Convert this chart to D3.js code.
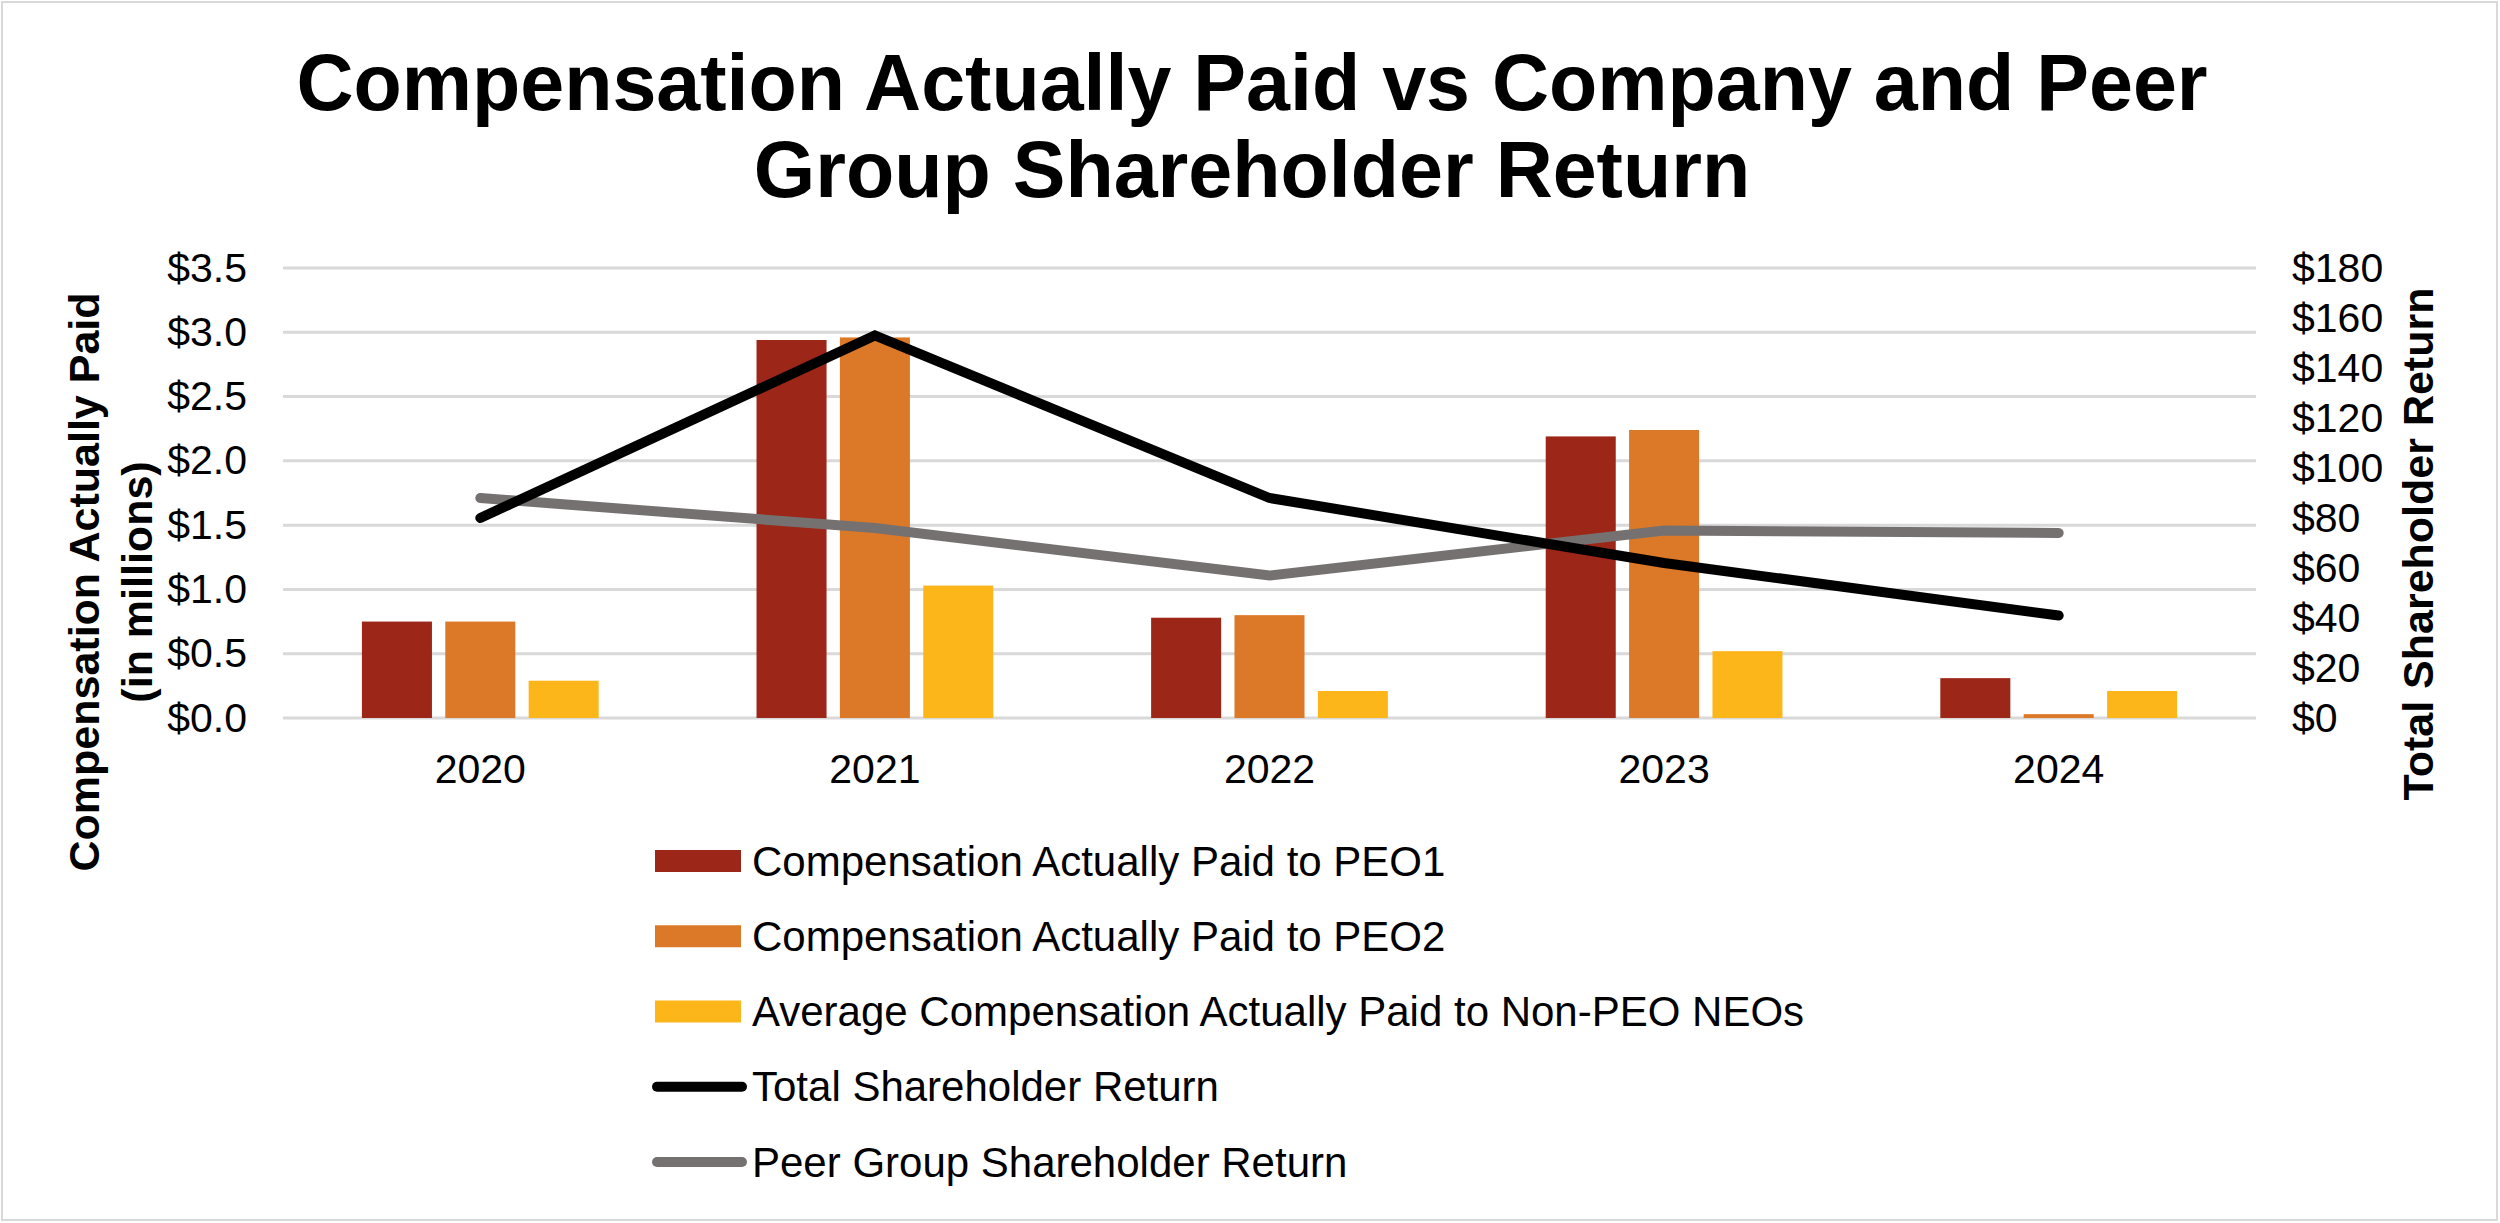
<!DOCTYPE html>
<html>
<head>
<meta charset="utf-8">
<script src="https://cdn.jsdelivr.net/npm/d3@7"></script>
<style>
  body { margin: 0; background: #fff; }
  svg text { font-family: "Liberation Sans", Arial, sans-serif; fill: #000; }
  .axis text { font-size: 41px; }
  .axis .domain { display: none; }
  .axis line { display: none; }
</style>
</head>
<body>
<div id="chart"></div>
<script>
//Data
var years = ["2020", "2021", "2022", "2023", "2024"];
var seriesNames = [
    "Compensation Actually Paid to PEO1",
    "Compensation Actually Paid to PEO2",
    "Average Compensation Actually Paid to Non-PEO NEOs"
];
var peo1 = [0.75, 2.94, 0.78, 2.19, 0.31];
var peo2 = [0.75, 2.96, 0.80, 2.24, 0.03];
var nonPeo = [0.29, 1.03, 0.21, 0.52, 0.21];
var tsr = [80, 153, 88, 62, 41];
var peerTsr = [88, 76, 57, 75, 74];
var lineNames = ["Total Shareholder Return", "Peer Group Shareholder Return"];
var leftTicks = [0, 0.5, 1.0, 1.5, 2.0, 2.5, 3.0, 3.5];
var rightTicks = [0, 20, 40, 60, 80, 100, 120, 140, 160, 180];

var barColors = ["#9c2617", "#dc7928", "#fcb61a"];
var lineColors = ["#000000", "#767171"];

//Width and height
var w = 2500;
var h = 1223;
var plotLeft = 283, plotRight = 2256, plotTop = 268, plotBottom = 718;

var svg = d3.select("#chart")
    .append("svg")
    .attr("width", w)
    .attr("height", h);

//Border
svg.append("rect")
    .attr("x", 2).attr("y", 2)
    .attr("width", w - 5).attr("height", h - 5)
    .attr("fill", "none")
    .attr("stroke", "#d9d9d9")
    .attr("stroke-width", 2);

//Scales
var x0 = d3.scaleBand()
    .domain(years)
    .range([plotLeft, plotRight])
    .paddingInner(0.4)
    .paddingOuter(0.2);

var x1 = d3.scaleBand()
    .domain(d3.range(seriesNames.length))
    .range([0, x0.bandwidth()])
    .paddingInner(0.16);

var yLeft = d3.scaleLinear()
    .domain([0, 3.5])
    .range([plotBottom, plotTop]);

var yRight = d3.scaleLinear()
    .domain([0, 180])
    .range([plotBottom, plotTop]);

//Gridlines
svg.append("g")
    .selectAll("line")
    .data(leftTicks)
    .enter()
    .append("line")
    .attr("x1", plotLeft)
    .attr("x2", plotRight)
    .attr("y1", function (d) { return yLeft(d); })
    .attr("y2", function (d) { return yLeft(d); })
    .attr("stroke", "#d9d9d9")
    .attr("stroke-width", 3);

//Bars
var barSeries = [peo1, peo2, nonPeo];
barSeries.forEach(function (values, s) {
    svg.append("g")
        .selectAll("rect")
        .data(values)
        .enter()
        .append("rect")
        .attr("x", function (d, i) { return x0(years[i]) + x1(s); })
        .attr("y", function (d) { return yLeft(d); })
        .attr("width", x1.bandwidth())
        .attr("height", function (d) { return plotBottom - yLeft(d); })
        .attr("fill", barColors[s]);
});

//Lines
var line = d3.line()
    .x(function (d, i) { return x0(years[i]) + x0.bandwidth() / 2; })
    .y(function (d) { return yRight(d); });

[peerTsr, tsr].forEach(function (values, k) {
    svg.append("path")
        .datum(values)
        .attr("d", line)
        .attr("fill", "none")
        .attr("stroke", lineColors[1 - k])
        .attr("stroke-width", 10)
        .attr("stroke-linecap", "round")
        .attr("stroke-linejoin", "miter");
});

//Axes
svg.append("g")
    .attr("class", "axis")
    .attr("transform", "translate(" + plotLeft + ",0)")
    .call(d3.axisLeft(yLeft).tickValues(leftTicks).tickSize(0).tickPadding(36)
        .tickFormat(function (d) { return "$" + d3.format(".1f")(d); }));

svg.append("g")
    .attr("class", "axis")
    .attr("transform", "translate(" + plotRight + ",0)")
    .call(d3.axisRight(yRight).tickValues(rightTicks).tickSize(0).tickPadding(36)
        .tickFormat(function (d) { return "$" + d; }));

svg.append("g")
    .attr("class", "axis")
    .attr("transform", "translate(0," + plotBottom + ")")
    .call(d3.axisBottom(x0).tickSize(0).tickPadding(36));

//Title
var title = svg.append("text")
    .attr("text-anchor", "middle")
    .style("font-size", "79px")
    .style("font-weight", "bold");
title.append("tspan").attr("x", 1252).attr("y", 110)
    .text("Compensation Actually Paid vs Company and Peer");
title.append("tspan").attr("x", 1252).attr("y", 197)
    .text("Group Shareholder Return");

//Axis titles
var leftTitle = svg.append("text")
    .attr("transform", "translate(0,582) rotate(-90)")
    .attr("text-anchor", "middle")
    .style("font-size", "43px")
    .style("font-weight", "bold");
leftTitle.append("tspan").attr("x", 0).attr("y", 84).attr("dy", "0.35em")
    .text("Compensation Actually Paid");
leftTitle.append("tspan").attr("x", 0).attr("y", 137).attr("dy", "0.35em")
    .text("(in millions)");

svg.append("text")
    .attr("transform", "translate(2418,544) rotate(-90)")
    .attr("text-anchor", "middle")
    .attr("dy", "0.35em")
    .style("font-size", "43px")
    .style("font-weight", "bold")
    .text("Total Shareholder Return");

//Legend
var legendY = d3.scalePoint()
    .domain(d3.range(5))
    .range([861, 1162]);

var legend = svg.append("g");
seriesNames.forEach(function (name, i) {
    legend.append("rect")
        .attr("x", 655).attr("y", legendY(i) - 11)
        .attr("width", 86).attr("height", 22)
        .attr("fill", barColors[i]);
    legend.append("text")
        .attr("x", 752).attr("y", legendY(i)).attr("dy", "0.35em")
        .style("font-size", "42px")
        .text(name);
});
lineNames.forEach(function (name, k) {
    var i = k + 3;
    legend.append("line")
        .attr("x1", 657).attr("x2", 742)
        .attr("y1", legendY(i)).attr("y2", legendY(i))
        .attr("stroke", lineColors[k])
        .attr("stroke-width", 10)
        .attr("stroke-linecap", "round");
    legend.append("text")
        .attr("x", 752).attr("y", legendY(i)).attr("dy", "0.35em")
        .style("font-size", "42px")
        .text(name);
});
</script>
</body>
</html>
